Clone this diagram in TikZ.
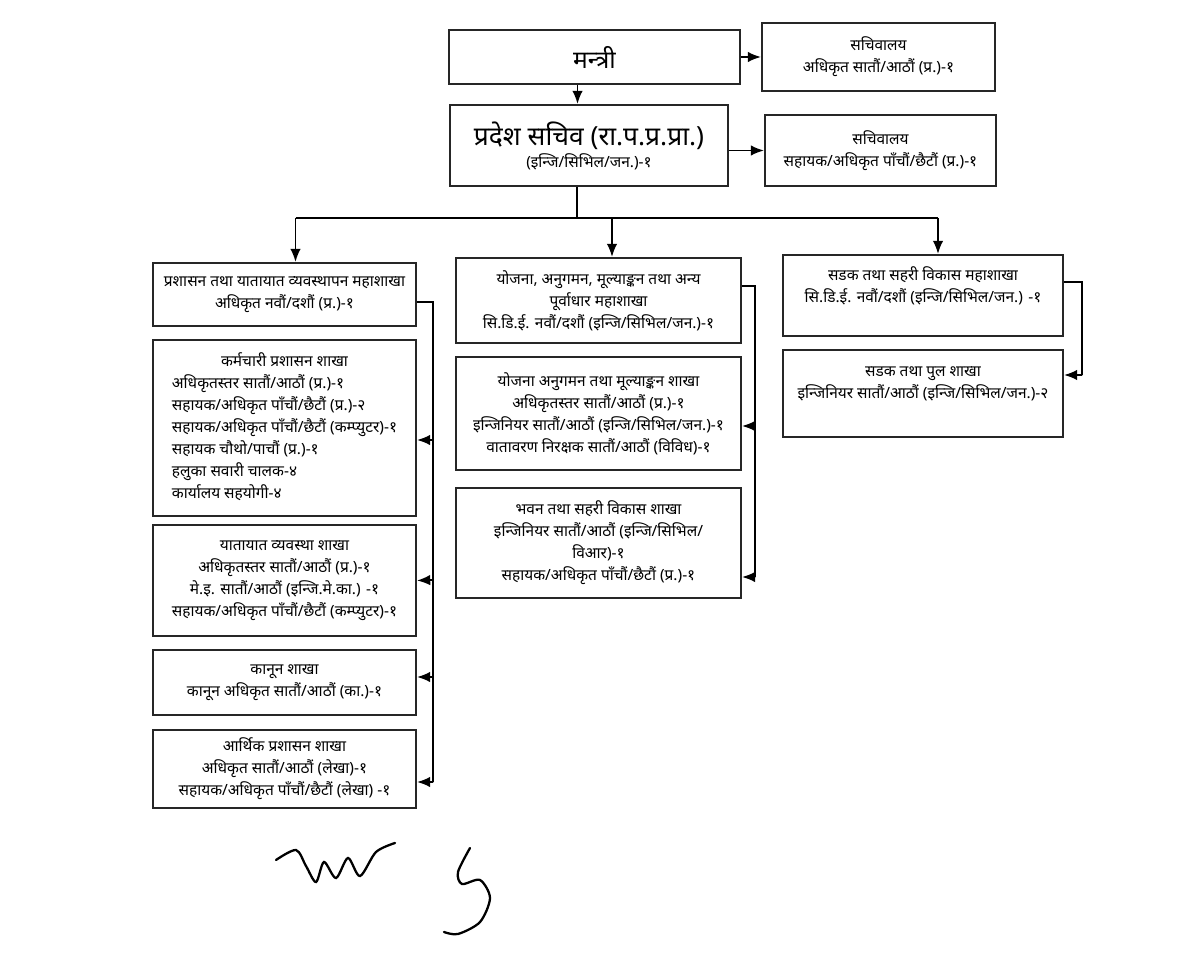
\documentclass[tikz,border=0pt]{standalone}
\usepackage{fontspec}
\setmainfont{Noto Sans}[Script=Devanagari]
\usepackage{tikz}
\usetikzlibrary{arrows.meta}

\begin{document}
\begin{tikzpicture}[
    x=0.02cm, y=-0.02cm,
    every node/.style={font=\fontsize{8.8}{12.5}\selectfont},
    office/.style={rectangle, draw=black!85, line width=1.2pt, align=center, inner sep=2pt},
    link/.style={line width=1pt, -{Latex[length=7.5pt,width=6pt]}},
    wire/.style={line width=1pt}
]
\useasboundingbox (0,0) rectangle (1200,973);

% Minister and secretary
\node[office, minimum width=5.82cm, minimum height=1.08cm, font=\fontsize{14}{16}\selectfont] (mantri) at (594.5,57) {मन्त्री};
\node[office, minimum width=4.66cm, minimum height=1.36cm] (sach1) at (878.5,57) {सचिवालय\\अधिकृत सातौं/आठौं (प्र.)-१};
\node[office, minimum width=5.56cm, minimum height=1.62cm] (pradesh) at (589,145.5) {{\fontsize{15}{19}\selectfont प्रदेश सचिव (रा.प.प्र.प्रा.)}\\(इन्जि/सिभिल/जन.)-१};
\node[office, minimum width=4.62cm, minimum height=1.42cm] (sach2) at (880.5,150.5) {सचिवालय\\सहायक/अधिकृत पाँचौं/छैटौं (प्र.)-१};

% Left column
\node[office, minimum width=5.26cm, minimum height=1.26cm] (L1) at (284.5,294.5) {प्रशासन तथा यातायात व्यवस्थापन महाशाखा\\अधिकृत नवौं/दशौं (प्र.)-१};
\node[office, minimum width=5.26cm, minimum height=3.52cm] (L2) at (284.5,428) {\begin{tabular}{@{}l@{}}
  \multicolumn{1}{c}{कर्मचारी प्रशासन शाखा}\\
  अधिकृतस्तर सातौं/आठौं (प्र.)-१\\
  सहायक/अधिकृत पाँचौं/छैटौं (प्र.)-२\\
  सहायक/अधिकृत पाँचौं/छैटौं (कम्प्युटर)-१\\
  सहायक चौथो/पाचौं (प्र.)-१\\
  हलुका सवारी चालक-४\\
  कार्यालय सहयोगी-४
\end{tabular}};
\node[office, minimum width=5.26cm, minimum height=2.22cm] (L3) at (284.5,580.5) {यातायात व्यवस्था शाखा\\अधिकृतस्तर सातौं/आठौं (प्र.)-१\\मे.इ. सातौं/आठौं (इन्जि.मे.का.) -१\\सहायक/अधिकृत पाँचौं/छैटौं (कम्प्युटर)-१};
\node[office, minimum width=5.26cm, minimum height=1.3cm] (L4) at (284.5,682.5) {कानून शाखा\\कानून अधिकृत सातौं/आठौं (का.)-१};
\node[office, minimum width=5.26cm, minimum height=1.56cm] (L5) at (284.5,769) {आर्थिक प्रशासन शाखा\\अधिकृत सातौं/आठौं (लेखा)-१\\सहायक/अधिकृत पाँचौं/छैटौं (लेखा) -१};

% Middle column
\node[office, minimum width=5.7cm, minimum height=1.7cm] (M1) at (598.5,300.5) {योजना, अनुगमन, मूल्याङ्कन तथा अन्य\\पूर्वाधार महाशाखा\\सि.डि.ई. नवौं/दशौं (इन्जि/सिभिल/जन.)-१};
\node[office, minimum width=5.7cm, minimum height=2.26cm] (M2) at (598.5,413.5) {योजना अनुगमन तथा मूल्याङ्कन शाखा\\अधिकृतस्तर सातौं/आठौं (प्र.)-१\\इन्जिनियर सातौं/आठौं (इन्जि/सिभिल/जन.)-१\\वातावरण निरक्षक सातौं/आठौं (विविध)-१};
\node[office, minimum width=5.7cm, minimum height=2.2cm] (M3) at (598.5,543) {भवन तथा सहरी विकास शाखा\\इन्जिनियर सातौं/आठौं (इन्जि/सिभिल/\\विआर)-१\\सहायक/अधिकृत पाँचौं/छैटौं (प्र.)-१};

% Right column
\node[office, minimum width=5.6cm, minimum height=1.62cm] (R1) at (923,295.5) {सडक तथा सहरी विकास महाशाखा\\सि.डि.ई. नवौं/दशौं (इन्जि/सिभिल/जन.) -१\\ \mbox{}};
\node[office, minimum width=5.6cm, minimum height=1.74cm] (R2) at (923,393.5) {सडक तथा पुल शाखा\\इन्जिनियर सातौं/आठौं (इन्जि/सिभिल/जन.)-२\\ \mbox{}};

% Top arrows
\draw[link] ([xshift=-0.34cm]mantri.south) -- ([xshift=-0.34cm]mantri.south |- pradesh.north);
\draw[link] (mantri) -- (sach1);
\draw[link] ([yshift=-0.1cm]pradesh.east) -- ([yshift=-0.1cm]pradesh.east -| sach2.west);

% Bus to the three wings
\coordinate (bus) at (577,218);
\draw[wire] (pradesh.south -| bus) -- (bus);
\draw[wire] ([xshift=0.22cm]L1.north |- bus) -- ([xshift=0.3cm]R1.north |- bus);
\draw[link] ([xshift=0.22cm]L1.north |- bus) -- ([xshift=0.22cm]L1.north);
\draw[link] ([xshift=0.27cm]M1.north |- bus) -- ([xshift=0.27cm]M1.north);
\draw[link] ([xshift=0.3cm]R1.north |- bus) -- ([xshift=0.3cm]R1.north);

% Left wing branches
\coordinate (lbus) at (433,302);
\draw[wire] ([yshift=-0.15cm]L1.east) -- (lbus) -- (433,782);
\draw[link] (433,440) -- ([yshift=-0.24cm]L2.east);
\draw[link] (433,580) -- (L3.east);
\draw[link] (433,677) -- ([yshift=0.11cm]L4.east);
\draw[link] (433,782) -- ([yshift=-0.26cm]L5.east);

% Middle wing branches
\coordinate (mbus) at (755,286);
\draw[wire] ([yshift=0.29cm]M1.east) -- (mbus) -- (755,577);
\draw[link] (755,426) -- ([yshift=-0.25cm]M2.east);
\draw[link] (755,577) -- ([yshift=-0.68cm]M3.east);

% Right wing branch
\coordinate (rbus) at (1082,282);
\draw[wire] ([yshift=0.27cm]R1.east) -- (rbus) -- (1082,375);
\draw[link] (1082,375) -- ([yshift=0.37cm]R2.east);

% Signatures
\draw[line width=1.3pt, line cap=round] plot[smooth] coordinates {(276,860) (296,850) (306,866) (316,882) (324,862) (336,878) (348,858) (360,876) (376,852) (395,843)};
\draw[line width=1.3pt, line cap=round] plot[smooth] coordinates {(470,848) (458,872) (462,884) (480,880) (490,898) (480,922) (458,934) (444,932)};

\end{tikzpicture}
\end{document}
